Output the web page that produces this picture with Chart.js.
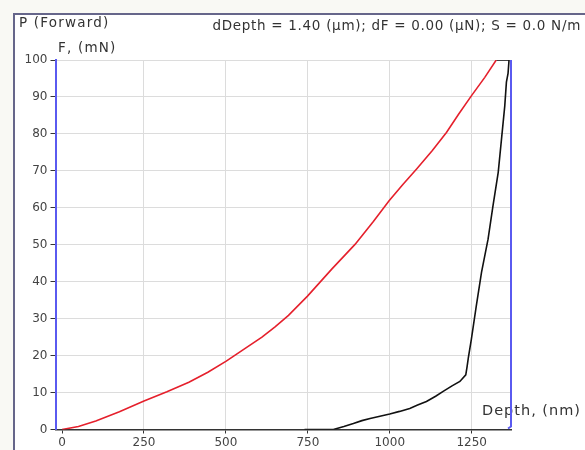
<!DOCTYPE html>
<html>
<head>
<meta charset="UTF-8">
<title>P (Forward)</title>
<script src="https://cdn.jsdelivr.net/npm/chart.js"></script>
<style>
    html, body { margin: 0; padding: 0; background: #f9f9f4; }
    #wrap { width: 585px; height: 450px; }
</style>
</head>
<body>
<div id="wrap"><canvas id="chart" width="585" height="450"></canvas></div>
<script>
// loading curve (red)
var loadDepth = [0, 50, 103, 175, 250, 320, 387, 445, 501, 560, 610, 650, 691, 749, 823, 894, 950, 998, 1040, 1082, 1130, 1173, 1210, 1249, 1290, 1325];
var loadForce = [0, 0.8, 2.3, 4.8, 7.7, 10.2, 12.8, 15.5, 18.5, 22.0, 25.0, 27.8, 30.9, 36.1, 43.4, 50.1, 56.3, 61.9, 66.3, 70.5, 75.5, 80.4, 85.3, 90.3, 95.3, 100];

// hold + unloading curve (black)
var unloadDepth = [1325, 1364, 1361, 1356, 1351, 1341, 1331, 1315, 1300, 1280, 1264, 1249, 1240, 1236, 1232, 1214, 1190, 1163, 1140, 1112, 1085, 1061, 1030, 1000, 970, 940, 915, 889, 860, 828, 800, 760, 740];
var unloadForce = [100, 100, 96.4, 94, 87.6, 78.6, 69.6, 60.5, 51.5, 42.5, 33.4, 24.4, 19.5, 17.0, 14.8, 13.0, 11.8, 10.3, 9.0, 7.6, 6.6, 5.7, 4.9, 4.2, 3.6, 3.0, 2.4, 1.6, 0.8, 0, 0, 0, 0];

var xTicks = [0, 250, 500, 750, 1000, 1250];
var yTicks = [0, 10, 20, 30, 40, 50, 60, 70, 80, 90, 100];

var headerText = 'dDepth = 1.40 (\u00b5m); dF = 0.00 (\u00b5N); S = 0.0 N/m';

function toPoints(xs, ys) {
    return xs.map(function (x, i) { return { x: x, y: ys[i] }; });
}

var font = '"DejaVu Sans", Verdana, sans-serif';

// frame, header texts and right blue marker
var decor = {
    id: 'decor',
    beforeDraw: function (chart) {
        var ctx = chart.ctx;
        ctx.save();
        ctx.fillStyle = '#f9f9f4';
        ctx.fillRect(0, 0, chart.width, chart.height);
        ctx.fillStyle = '#ffffff';
        ctx.fillRect(14, 14, chart.width - 14, chart.height - 14);
        ctx.strokeStyle = '#66668a';
        ctx.lineWidth = 2;
        ctx.beginPath();
        ctx.moveTo(14, chart.height);
        ctx.lineTo(14, 14);
        ctx.lineTo(chart.width, 14);
        ctx.stroke();
        ctx.restore();
    },
    afterDraw: function (chart) {
        var ctx = chart.ctx;
        var a = chart.chartArea;
        ctx.save();
        ctx.fillStyle = '#333333';
        ctx.textBaseline = 'middle';
        ctx.textAlign = 'left';
        ctx.font = '13.5px ' + font;
        ctx.letterSpacing = '1.2px';
        ctx.fillText('P (Forward)', 19, 23);
        ctx.fillText('F, (mN)', 58, 48);
        ctx.textAlign = 'right';
        ctx.letterSpacing = '0.7px';
        ctx.fillText(headerText, 581, 26);
        ctx.font = '14.5px ' + font;
        ctx.letterSpacing = '1px';
        ctx.fillText('Depth, (nm)', 581, 411);

        ctx.strokeStyle = '#5a5af0';
        ctx.lineWidth = 2;
        ctx.beginPath();
        ctx.moveTo(a.right, a.top);
        ctx.lineTo(a.right, a.bottom - 3);
        ctx.lineTo(a.right - 3, a.bottom - 1);
        ctx.stroke();
        ctx.restore();
    }
};

new Chart(document.getElementById('chart'), {
    type: 'scatter',
    data: {
        datasets: [{
            data: toPoints(loadDepth, loadForce),
            showLine: true,
            borderColor: '#e5202c',
            borderWidth: 1.6,
            pointRadius: 0,
            tension: 0
        }, {
            data: toPoints(unloadDepth, unloadForce),
            showLine: true,
            borderColor: '#111111',
            borderWidth: 1.6,
            pointRadius: 0,
            tension: 0
        }]
    },
    options: {
        responsive: false,
        animation: false,
        layout: { padding: { left: 0, right: 74, top: 60, bottom: 0 } },
        plugins: {
            legend: { display: false },
            tooltip: { enabled: false }
        },
        scales: {
            x: {
                type: 'linear',
                min: -20,
                max: 1370,
                afterBuildTicks: function (s) { s.ticks = xTicks.map(function (v) { return { value: v }; }); },
                afterFit: function (s) { s.height = 20.5; },
                grid: {
                    color: function (c) { return c.tick && c.tick.value === 0 ? 'rgba(0,0,0,0)' : '#dcdcdc'; },
                    tickColor: '#333333',
                    tickLength: 4,
                    lineWidth: 1
                },
                border: { color: '#333333', width: 1.5 },
                ticks: {
                    color: '#444444',
                    font: { family: font, size: 12 },
                    padding: 2,
                    maxRotation: 0,
                    autoSkip: false,
                    callback: function (v) { return String(v); }
                }
            },
            y: {
                type: 'linear',
                min: 0,
                max: 100,
                afterBuildTicks: function (s) { s.ticks = yTicks.map(function (v) { return { value: v }; }); },
                afterFit: function (s) { s.width = 55.5; },
                grid: {
                    color: function (c) { return c.tick && c.tick.value === 0 ? 'rgba(0,0,0,0)' : '#dcdcdc'; },
                    tickColor: '#333333',
                    tickLength: 5,
                    lineWidth: 1
                },
                border: { color: '#5a5af0', width: 2 },
                ticks: {
                    color: '#444444',
                    font: { family: font, size: 12 },
                    padding: 3,
                    autoSkip: false,
                    callback: function (v) { return String(v); }
                }
            }
        }
    },
    plugins: [decor]
});
</script>
</body>
</html>
